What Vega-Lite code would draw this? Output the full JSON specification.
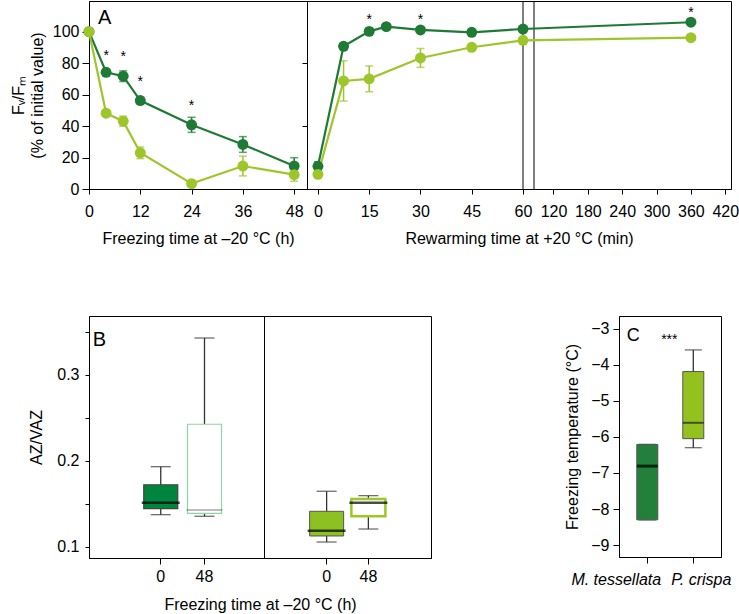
{
  "$schema": "https://vega.github.io/schema/vega-lite/v6.json",
  "background": "white",
  "padding": {"left": -4, "top": 0, "right": 2, "bottom": 0},
  "config": {
    "font": "Liberation Sans",
    "view": {"stroke": "black", "strokeWidth": 1},
    "axis": {
      "labelFont": "Liberation Sans", "titleFont": "Liberation Sans",
      "labelFontSize": 16, "titleFontSize": 16, "labelColor": "black", "titleColor": "black",
      "titleFontWeight": "normal", "domainColor": "black", "tickColor": "black",
      "grid": false, "labelAngle": 0, "labelFlush": false, "labelOverlap": false, "labelBound": false
    },
    "text": {"font": "Liberation Sans"}
  },
  "datasets": {
    "freeze": [
      {"sp": "M. tessellata", "t": 0, "fv": 100, "lo": 100, "hi": 100},
      {"sp": "M. tessellata", "t": 4, "fv": 74.2, "lo": 72.2, "hi": 76.2},
      {"sp": "M. tessellata", "t": 8, "fv": 71.7, "lo": 68.3, "hi": 75.1},
      {"sp": "M. tessellata", "t": 12, "fv": 56.2, "lo": 54.2, "hi": 58.2},
      {"sp": "M. tessellata", "t": 24, "fv": 40.8, "lo": 36, "hi": 45.6},
      {"sp": "M. tessellata", "t": 36, "fv": 28.3, "lo": 23.3, "hi": 33.3},
      {"sp": "M. tessellata", "t": 48, "fv": 14.6, "lo": 9.3, "hi": 19.9},
      {"sp": "P. crispa", "t": 0, "fv": 100, "lo": 100, "hi": 100},
      {"sp": "P. crispa", "t": 4, "fv": 48.2, "lo": 46.2, "hi": 50.2},
      {"sp": "P. crispa", "t": 8, "fv": 43.1, "lo": 39.9, "hi": 46.3},
      {"sp": "P. crispa", "t": 12, "fv": 23, "lo": 19.3, "hi": 26.7},
      {"sp": "P. crispa", "t": 24, "fv": 3.4, "lo": 1.9, "hi": 4.9},
      {"sp": "P. crispa", "t": 36, "fv": 14.6, "lo": 8.3, "hi": 20.9},
      {"sp": "P. crispa", "t": 48, "fv": 9.1, "lo": 4.9, "hi": 13.3}
    ],
    "rewarm": [
      {"sp": "M. tessellata", "t": 0, "fv": 14.4, "lo": 11.4, "hi": 17.4},
      {"sp": "M. tessellata", "t": 7.5, "fv": 90.7, "lo": 88.7, "hi": 92.7},
      {"sp": "M. tessellata", "t": 15, "fv": 100.2, "lo": 98.2, "hi": 102.2},
      {"sp": "M. tessellata", "t": 20, "fv": 103.2, "lo": 101.7, "hi": 104.7},
      {"sp": "M. tessellata", "t": 30, "fv": 101.1, "lo": 99.6, "hi": 102.6},
      {"sp": "M. tessellata", "t": 45, "fv": 99.6, "lo": 98.1, "hi": 101.1},
      {"sp": "M. tessellata", "t": 60, "fv": 101.7, "lo": 100.2, "hi": 103.2},
      {"sp": "M. tessellata", "t": 360, "fv": 106, "lo": 104.5, "hi": 107.5},
      {"sp": "P. crispa", "t": 0, "fv": 9.3, "lo": 7.3, "hi": 11.3},
      {"sp": "P. crispa", "t": 7.5, "fv": 68.7, "lo": 55.9, "hi": 81.5},
      {"sp": "P. crispa", "t": 15, "fv": 70, "lo": 61.8, "hi": 78.2},
      {"sp": "P. crispa", "t": 30, "fv": 83.3, "lo": 77.3, "hi": 89.3},
      {"sp": "P. crispa", "t": 45, "fv": 90.1, "lo": 88.6, "hi": 91.6},
      {"sp": "P. crispa", "t": 60, "fv": 94.5, "lo": 93, "hi": 96},
      {"sp": "P. crispa", "t": 360, "fv": 96.2, "lo": 94.7, "hi": 97.7}
    ],
    "starsA1": [
      {"t": 4, "y": 87.8, "label": "*"},
      {"t": 8, "y": 87, "label": "*"},
      {"t": 12, "y": 71.3, "label": "*"},
      {"t": 24, "y": 56.2, "label": "*"}
    ],
    "starsA2": [
      {"t": 15, "y": 110.8, "label": "*"},
      {"t": 30, "y": 110.8, "label": "*"},
      {"t": 360, "y": 114.8, "label": "*"}
    ],
    "box": [
      {"sp": "M. tessellata", "time": "0", "lower": 0.1376, "q1": 0.1445, "median": 0.1515, "q3": 0.1724, "upper": 0.1934},
      {"sp": "M. tessellata", "time": "48", "lower": 0.1357, "q1": 0.139, "median": 0.143, "q3": 0.2427, "upper": 0.343},
      {"sp": "P. crispa", "time": "0", "lower": 0.1058, "q1": 0.1128, "median": 0.119, "q3": 0.1415, "upper": 0.1648},
      {"sp": "P. crispa", "time": "48", "lower": 0.1209, "q1": 0.1357, "median": 0.1515, "q3": 0.1558, "upper": 0.1597}
    ],
    "boxC": [
      {"sp": "M. tessellata", "lower": -8.3, "q1": -8.3, "median": -6.81, "q3": -6.21, "upper": -6.21},
      {"sp": "P. crispa", "lower": -6.3, "q1": -6.05, "median": -5.61, "q3": -4.19, "upper": -3.59}
    ]
  },
  "spacing": 68,
  "align": "none",
  "vconcat": [
    {
      "hconcat": [
        {
          "width": 218, "height": 188,
          "data": {"name": "freeze"},
          "layer": [
            {"mark": {"type": "rule", "strokeWidth": 1.5},
             "encoding": {
               "x": {"field": "t", "type": "quantitative",
                     "scale": {"domain": [0, 51], "nice": false, "zero": false},
                     "axis": {"values": [0, 12, 24, 36, 48], "title": "Freezing time at –20 °C (h)", "tickSize": 5, "labelPadding": 9, "titlePadding": 11}},
               "y": {"field": "lo", "type": "quantitative",
                     "scale": {"domain": [0, 119.5], "nice": false, "zero": false},
                     "axis": {"values": [0, 20, 40, 60, 80, 100], "labelOverlap": false, "title": ["Fᵥ/Fₘ", "(% of initial value)"], "tickSize": 7, "labelPadding": 3, "titlePadding": 7, "titleLineHeight": 19}},
               "y2": {"field": "hi"},
               "color": {"field": "sp", "type": "nominal", "scale": {"domain": ["M. tessellata", "P. crispa"], "range": ["#1f7a35", "#9dc62a"]}, "legend": null}
             }},
            {"mark": {"type": "tick", "orient": "horizontal", "size": 8, "thickness": 1.5},
             "encoding": {"x": {"field": "t", "type": "quantitative"},
                          "y": {"field": "lo", "type": "quantitative", "axis": {"values": [0, 20, 40, 60, 80, 100], "labelOverlap": false, "title": ["Fᵥ/Fₘ", "(% of initial value)"], "tickSize": 7, "labelPadding": 3, "titlePadding": 7, "titleLineHeight": 19}},
                          "color": {"field": "sp", "type": "nominal", "legend": null}}},
            {"mark": {"type": "tick", "orient": "horizontal", "size": 8, "thickness": 1.5},
             "encoding": {"x": {"field": "t", "type": "quantitative"},
                          "y": {"field": "hi", "type": "quantitative", "axis": {"values": [0, 20, 40, 60, 80, 100], "labelOverlap": false, "title": ["Fᵥ/Fₘ", "(% of initial value)"], "tickSize": 7, "labelPadding": 3, "titlePadding": 7, "titleLineHeight": 19}},
                          "color": {"field": "sp", "type": "nominal", "legend": null}}},
            {"mark": {"type": "line", "strokeWidth": 2.2},
             "encoding": {"x": {"field": "t", "type": "quantitative"},
                          "y": {"field": "fv", "type": "quantitative", "axis": {"values": [0, 20, 40, 60, 80, 100], "labelOverlap": false, "title": ["Fᵥ/Fₘ", "(% of initial value)"], "tickSize": 7, "labelPadding": 3, "titlePadding": 7, "titleLineHeight": 19}},
                          "color": {"field": "sp", "type": "nominal", "legend": null}}},
            {"mark": {"type": "circle", "size": 120, "opacity": 1},
             "encoding": {"x": {"field": "t", "type": "quantitative"},
                          "y": {"field": "fv", "type": "quantitative", "axis": {"values": [0, 20, 40, 60, 80, 100], "labelOverlap": false, "title": ["Fᵥ/Fₘ", "(% of initial value)"], "tickSize": 7, "labelPadding": 3, "titlePadding": 7, "titleLineHeight": 19}},
                          "color": {"field": "sp", "type": "nominal", "legend": null}}},
            {"data": {"name": "starsA1"}, "mark": {"type": "text", "fontSize": 14, "baseline": "middle", "dy": 5, "color": "black"},
             "encoding": {"x": {"field": "t", "type": "quantitative"},
                          "y": {"field": "y", "type": "quantitative", "axis": {"values": [0, 20, 40, 60, 80, 100], "labelOverlap": false, "title": ["Fᵥ/Fₘ", "(% of initial value)"], "tickSize": 7, "labelPadding": 3, "titlePadding": 7, "titleLineHeight": 19}},
                          "text": {"field": "label"}}},
            {"data": {"values": [{"label": "A"}]}, "mark": {"type": "text", "fontSize": 20, "align": "left", "baseline": "middle", "color": "black"},
             "encoding": {"x": {"datum": 2.1}, "y": {"datum": 108.9, "axis": {"values": [0, 20, 40, 60, 80, 100], "labelOverlap": false, "title": ["Fᵥ/Fₘ", "(% of initial value)"], "tickSize": 7, "labelPadding": 3, "titlePadding": 7, "titleLineHeight": 19}}, "text": {"field": "label"}}}
          ]
        },
        {
          "width": 424, "height": 188,
          "data": {"name": "rewarm"},
          "layer": [
            {"mark": {"type": "rule", "strokeWidth": 1.5},
             "encoding": {
               "x": {"field": "t", "type": "quantitative",
                     "scale": {"domain": [-3.2, 60, 86, 430], "range": [0, 216, 227, 424], "nice": false, "zero": false},
                     "axis": {"values": [0, 15, 30, 45, 60, 120, 180, 240, 300, 360, 420], "title": "Rewarming time at +20 °C (min)", "tickSize": 5, "labelPadding": 9, "titlePadding": 11, "labelOverlap": false}},
               "y": {"field": "lo", "type": "quantitative",
                     "scale": {"domain": [0, 119.5], "nice": false, "zero": false},
                     "axis": {"values": [0, 20, 40, 60, 80, 100], "labels": false, "title": null, "tickSize": 5}},
               "y2": {"field": "hi"},
               "color": {"field": "sp", "type": "nominal", "scale": {"domain": ["M. tessellata", "P. crispa"], "range": ["#1f7a35", "#9dc62a"]}, "legend": null}
             }},
            {"data": {"values": [{"brk": 60}, {"brk": 86}]}, "mark": {"type": "rule", "color": "black", "strokeWidth": 1},
             "encoding": {"x": {"field": "brk", "type": "quantitative"}}},
            {"mark": {"type": "tick", "orient": "horizontal", "size": 8, "thickness": 1.5},
             "encoding": {"x": {"field": "t", "type": "quantitative"}, "y": {"field": "lo", "type": "quantitative"}, "color": {"field": "sp", "type": "nominal", "legend": null}}},
            {"mark": {"type": "tick", "orient": "horizontal", "size": 8, "thickness": 1.5},
             "encoding": {"x": {"field": "t", "type": "quantitative"}, "y": {"field": "hi", "type": "quantitative"}, "color": {"field": "sp", "type": "nominal", "legend": null}}},
            {"mark": {"type": "line", "strokeWidth": 2.2},
             "encoding": {"x": {"field": "t", "type": "quantitative"}, "y": {"field": "fv", "type": "quantitative"}, "color": {"field": "sp", "type": "nominal", "legend": null}}},
            {"mark": {"type": "circle", "size": 120, "opacity": 1},
             "encoding": {"x": {"field": "t", "type": "quantitative"}, "y": {"field": "fv", "type": "quantitative"}, "color": {"field": "sp", "type": "nominal", "legend": null}}},
            {"data": {"name": "starsA2"}, "mark": {"type": "text", "fontSize": 14, "baseline": "middle", "dy": 5, "color": "black"},
             "encoding": {"x": {"field": "t", "type": "quantitative"}, "y": {"field": "y", "type": "quantitative"}, "text": {"field": "label"}}}
          ]
        }
      ],
      "spacing": 0,
      "bounds": "flush"
    },
    {
      "hconcat": [
        {
          "hconcat": [
            {
              "width": 175, "height": 242,
              "data": {"name": "box"},
              "transform": [{"filter": "datum.sp == 'M. tessellata'"}],
              "encoding": {
                "x": {"field": "time", "type": "ordinal", "sort": ["0", "48"],
                      "scale": {"domain": ["0", "48"], "paddingInner": 0, "paddingOuter": 1.365, "align": 0.57},
                      "axis": {"title": "Freezing time at –20 °C (h)", "titleX": 171, "tickSize": 6, "labelPadding": 4, "titlePadding": 12}}
              },
              "layer": [
                {"mark": {"type": "rule", "color": "#333", "strokeWidth": 1.3},
                 "encoding": {"y": {"field": "lower", "type": "quantitative",
                                    "scale": {"domain": [0.0872, 0.3686], "nice": false, "zero": false},
                                    "axis": {"values": [0.1, 0.15, 0.2, 0.25, 0.3, 0.35], "labelExpr": "abs(datum.value*10 - round(datum.value*10)) < 0.001 ? format(datum.value, '.1f') : ''", "title": ["", "AZ/VAZ"], "titleLineHeight": 32, "tickSize": 4, "labelPadding": 6, "titlePadding": 12}},
                              "y2": {"field": "upper"}}},
                {"mark": {"type": "tick", "color": "#333", "size": 20, "thickness": 1.3}, "encoding": {"y": {"field": "lower", "type": "quantitative"}}},
                {"mark": {"type": "tick", "color": "#333", "size": 20, "thickness": 1.3}, "encoding": {"y": {"field": "upper", "type": "quantitative"}}},
                {"mark": {"type": "bar", "size": 34},
                 "encoding": {"y": {"field": "q1", "type": "quantitative"}, "y2": {"field": "q3"},
                              "fill": {"condition": {"test": "datum.time == '48'", "value": "white"}, "value": "#00853f"},
                              "stroke": {"condition": {"test": "datum.time == '48'", "value": "#8fd4a8"}, "value": "#444444"},
                              "strokeWidth": {"value": 1.2}}},
                {"transform": [{"filter": "datum.time == '0'"}], "mark": {"type": "tick", "color": "black", "size": 38, "thickness": 2.5}, "encoding": {"y": {"field": "median", "type": "quantitative"}}},
                {"transform": [{"filter": "datum.time == '48'"}], "mark": {"type": "tick", "color": "#444444", "size": 36, "thickness": 1.2}, "encoding": {"y": {"field": "median", "type": "quantitative"}}},
                {"data": {"values": [{"label": "B"}]}, "transform": [], "mark": {"type": "text", "fontSize": 20, "align": "left", "baseline": "middle", "dx": -68, "color": "black"},
                 "encoding": {"x": {"datum": "0"}, "y": {"datum": 0.341}, "text": {"field": "label"}}}
              ]
            },
            {
              "width": 167, "height": 242,
              "data": {"name": "box"},
              "transform": [{"filter": "datum.sp == 'P. crispa'"}],
              "encoding": {
                "x": {"field": "time", "type": "ordinal", "sort": ["0", "48"],
                      "scale": {"domain": ["0", "48"], "paddingInner": 0, "paddingOuter": 1.32, "align": 0.5},
                      "axis": {"title": null, "tickSize": 6, "labelPadding": 4}}
              },
              "layer": [
                {"mark": {"type": "rule", "color": "#333", "strokeWidth": 1.3},
                 "encoding": {"y": {"field": "lower", "type": "quantitative",
                                    "scale": {"domain": [0.0872, 0.3686], "nice": false, "zero": false}, "axis": null},
                              "y2": {"field": "upper"}}},
                {"mark": {"type": "tick", "color": "#333", "size": 20, "thickness": 1.3}, "encoding": {"y": {"field": "lower", "type": "quantitative"}}},
                {"mark": {"type": "tick", "color": "#333", "size": 20, "thickness": 1.3}, "encoding": {"y": {"field": "upper", "type": "quantitative"}}},
                {"mark": {"type": "bar", "size": 34},
                 "encoding": {"y": {"field": "q1", "type": "quantitative"}, "y2": {"field": "q3"},
                              "fill": {"condition": {"test": "datum.time == '48'", "value": "white"}, "value": "#8dc021"},
                              "stroke": {"condition": {"test": "datum.time == '48'", "value": "#9cc824"}, "value": "#555555"},
                              "strokeWidth": {"condition": {"test": "datum.time == '48'", "value": 2.5}, "value": 1}}},
                {"mark": {"type": "tick", "color": "black", "size": 38, "thickness": 2.5}, "encoding": {"y": {"field": "median", "type": "quantitative"}}}
              ]
            }
          ],
          "spacing": 0,
          "bounds": "flush"
        },
        {
          "width": 102, "height": 241,
          "data": {"name": "boxC"},
          "encoding": {
            "x": {"field": "sp", "type": "nominal", "sort": ["M. tessellata", "P. crispa"],
                  "scale": {"paddingInner": 0, "paddingOuter": 0.109, "align": 0.53},
                  "axis": {"title": null, "labelFontStyle": "italic", "tickSize": 6, "labelPadding": 8,
                           "labelOffset": {"condition": {"test": "datum.value == 'M. tessellata'", "value": -31}, "value": 8}}}
          },
          "layer": [
            {"mark": {"type": "rule", "color": "#333", "strokeWidth": 1.3},
             "encoding": {"y": {"field": "lower", "type": "quantitative",
                                "scale": {"domain": [-9.33, -2.65], "nice": false, "zero": false},
                                "axis": {"values": [-9, -8, -7, -6, -5, -4, -3], "title": "Freezing temperature (°C)", "tickSize": 6, "labelPadding": 4, "titlePadding": 10}},
                          "y2": {"field": "upper"}}},
            {"mark": {"type": "tick", "color": "#333", "size": 17, "thickness": 1.3}, "encoding": {"y": {"field": "lower", "type": "quantitative"}}},
            {"mark": {"type": "tick", "color": "#333", "size": 17, "thickness": 1.3}, "encoding": {"y": {"field": "upper", "type": "quantitative"}}},
            {"mark": {"type": "bar", "size": 21, "stroke": "#555555", "strokeWidth": 1},
             "encoding": {"y": {"field": "q1", "type": "quantitative"}, "y2": {"field": "q3"},
                          "fill": {"condition": {"test": "datum.sp == 'P. crispa'", "value": "#95c11f"}, "value": "#23803a"}}},
            {"transform": [{"filter": "datum.sp == 'M. tessellata'"}], "mark": {"type": "tick", "color": "black", "size": 21, "thickness": 3}, "encoding": {"y": {"field": "median", "type": "quantitative"}}},
            {"transform": [{"filter": "datum.sp == 'P. crispa'"}], "mark": {"type": "tick", "color": "#222222", "size": 21, "thickness": 2}, "encoding": {"y": {"field": "median", "type": "quantitative"}}},
            {"data": {"values": [{"label": "C"}]}, "mark": {"type": "text", "fontSize": 18, "align": "center", "baseline": "middle", "dx": -14, "color": "black"},
             "encoding": {"x": {"datum": "M. tessellata"}, "y": {"datum": -3.21}, "text": {"field": "label"}}},
            {"data": {"values": [{"label": "***"}]}, "mark": {"type": "text", "fontSize": 14, "align": "center", "baseline": "middle", "dx": 22, "dy": 4, "color": "black"},
             "encoding": {"x": {"datum": "M. tessellata"}, "y": {"datum": -3.2}, "text": {"field": "label"}}}
          ]
        }
      ],
      "spacing": 132
    }
  ]
}
